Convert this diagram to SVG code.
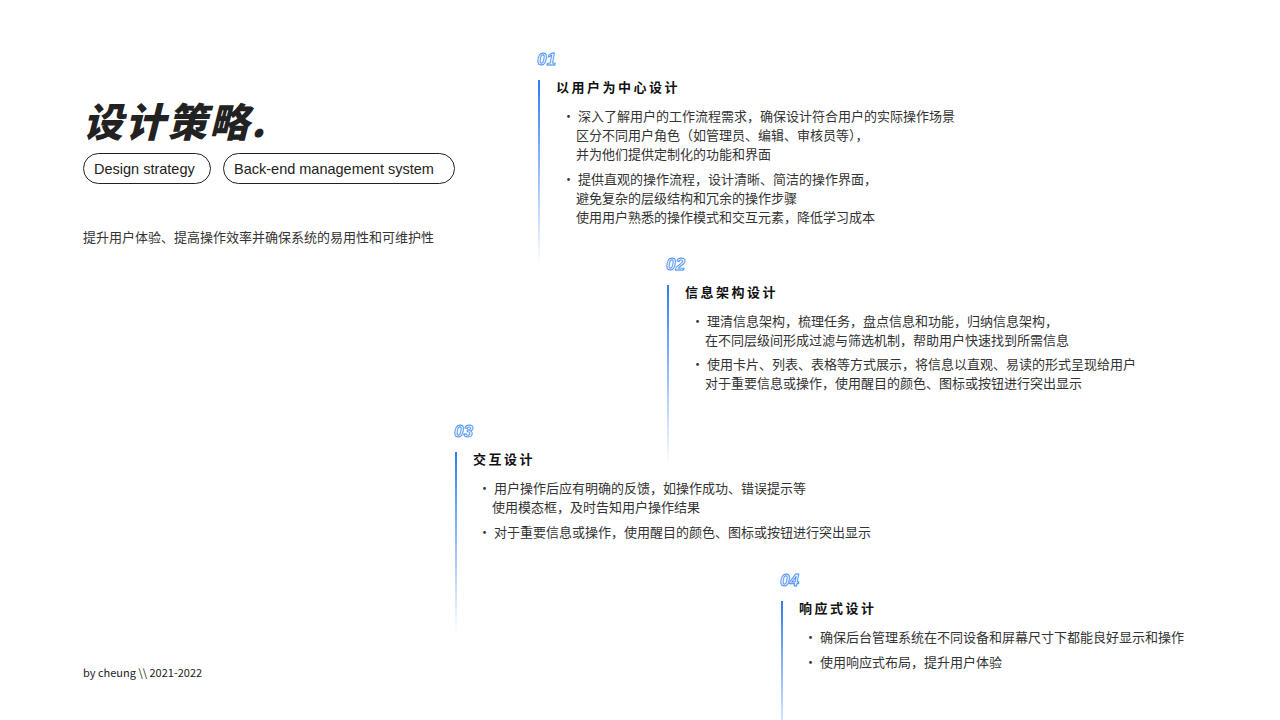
<svg xmlns="http://www.w3.org/2000/svg" width="1280" height="720" viewBox="0 0 1280 720">
<defs>
<linearGradient id="g" x1="0" y1="0" x2="0" y2="1"><stop offset="0" stop-color="#2f7bf5"/><stop offset="1" stop-color="#2f7bf5" stop-opacity="0"/></linearGradient>
<style>
text{font-family:"Noto Sans CJK SC","Noto Sans",sans-serif;fill:#222}
.num{font-family:"Liberation Sans",sans-serif;font-style:italic;font-weight:bold;font-size:17px;fill:none;stroke:#3d8cf7;stroke-width:0.9}
.h{font-size:13px;font-weight:bold;letter-spacing:2.5px;fill:#111}
.b{font-size:13px;fill:#333}
.pill{fill:none;stroke:#222;stroke-width:1}
.en{font-family:"Liberation Sans",Arial,sans-serif;font-size:14.5px;fill:#222}
</style>
</defs>
<rect width="1280" height="720" fill="#fff"/>
<g id="title">
<text x="83" y="137" font-size="40" font-weight="900" font-style="italic" fill="#000" letter-spacing="2">设计策略.</text>
<rect class="pill" x="83.5" y="153.5" width="127" height="30" rx="15"/>
<text class="en" x="94" y="174">Design strategy</text>
<rect class="pill" x="223.5" y="153.5" width="231" height="30" rx="15"/>
<text class="en" x="234" y="174">Back-end management system</text>
<text class="b" x="83" y="242" font-size="13.5">提升用户体验、提高操作效率并确保系统的易用性和可维护性</text>
<text x="83" y="677" font-family="Liberation Sans,sans-serif" font-size="11">by cheung  \\  2021-2022</text>
</g>
<g id="connectors">
<rect x="538" y="80" width="2" height="185" fill="url(#g)"/>
<rect x="667" y="285" width="2" height="180" fill="url(#g)"/>
<rect x="455" y="452" width="2" height="183" fill="url(#g)"/>
<rect x="781" y="601" width="2" height="150" fill="url(#g)"/>
</g>
<g id="s1">
<text class="num" x="537" y="65">01</text>
<text class="h" x="556" y="92">以用户为中心设计</text>
<text class="b" x="562" y="121">•  深入了解用户的工作流程需求，确保设计符合用户的实际操作场景</text>
<text class="b" x="576" y="140">区分不同用户角色（如管理员、编辑、审核员等），</text>
<text class="b" x="576" y="159">并为他们提供定制化的功能和界面</text>
<text class="b" x="562" y="184">•  提供直观的操作流程，设计清晰、简洁的操作界面，</text>
<text class="b" x="576" y="203">避免复杂的层级结构和冗余的操作步骤</text>
<text class="b" x="576" y="222">使用用户熟悉的操作模式和交互元素，降低学习成本</text>
</g>
<g id="s2">
<text class="num" x="666" y="270">02</text>
<text class="h" x="685" y="297">信息架构设计</text>
<text class="b" x="691" y="326">•  理清信息架构，梳理任务，盘点信息和功能，归纳信息架构，</text>
<text class="b" x="705" y="345">在不同层级间形成过滤与筛选机制，帮助用户快速找到所需信息</text>
<text class="b" x="691" y="369">•  使用卡片、列表、表格等方式展示，将信息以直观、易读的形式呈现给用户</text>
<text class="b" x="705" y="388">对于重要信息或操作，使用醒目的颜色、图标或按钮进行突出显示</text>
</g>
<g id="s3">
<text class="num" x="454" y="437">03</text>
<text class="h" x="473" y="464">交互设计</text>
<text class="b" x="478" y="493">•  用户操作后应有明确的反馈，如操作成功、错误提示等</text>
<text class="b" x="492" y="512">使用模态框，及时告知用户操作结果</text>
<text class="b" x="478" y="537">•  对于重要信息或操作，使用醒目的颜色、图标或按钮进行突出显示</text>
</g>
<g id="s4">
<text class="num" x="780" y="586">04</text>
<text class="h" x="799" y="613">响应式设计</text>
<text class="b" x="804" y="642">•  确保后台管理系统在不同设备和屏幕尺寸下都能良好显示和操作</text>
<text class="b" x="804" y="667">•  使用响应式布局，提升用户体验</text>
</g>
</svg>
